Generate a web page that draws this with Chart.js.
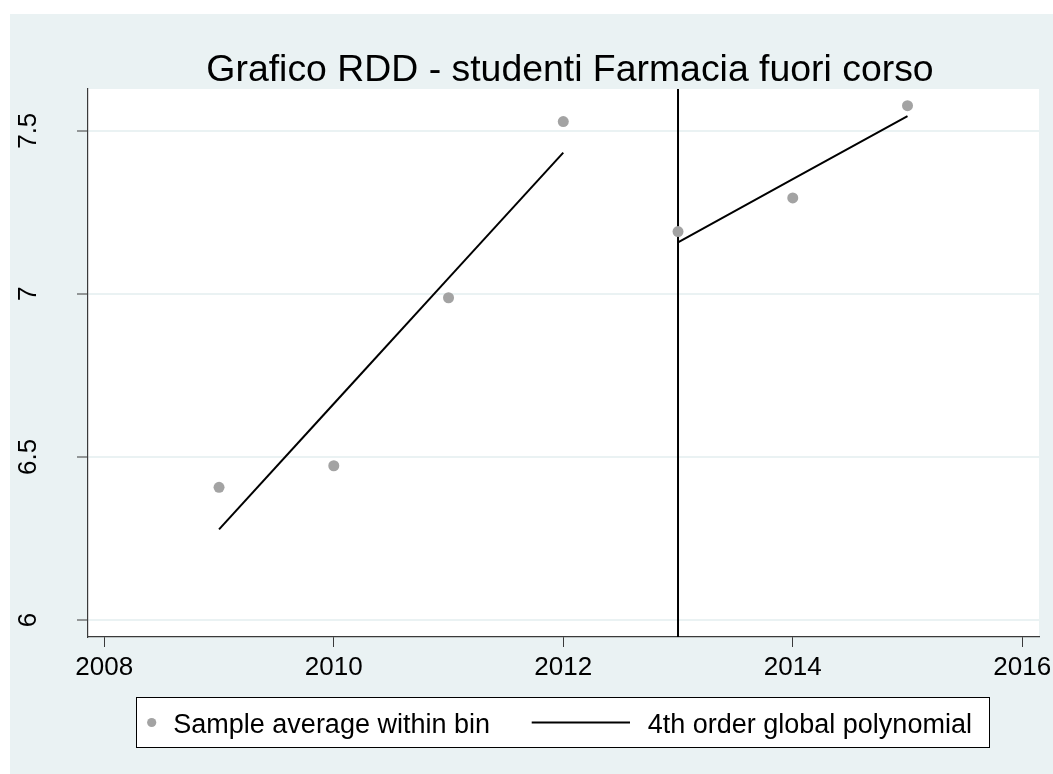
<!DOCTYPE html>
<html>
<head>
<meta charset="utf-8">
<title>Grafico RDD - studenti Farmacia fuori corso</title>
<script src="https://cdn.jsdelivr.net/npm/chart.js@4/dist/chart.umd.min.js"></script>
<style>
  html, body { margin: 0; padding: 0; background: #ffffff; }
  canvas { display: block; }
</style>
</head>
<body>
<canvas id="rdd" width="1053" height="774"></canvas>
<script>
// Anni accademici (bin) e medie campionarie per bin
const years = [2009, 2010, 2011, 2012, 2013, 2014, 2015];
const binMeans = [6.407, 6.473, 6.988, 7.528, 7.191, 7.294, 7.577];

// Valori stimati del polinomio globale di 4° ordine, prima e dopo la soglia
const fitLeftYears = [2009, 2010, 2011, 2012];
const fitLeftValues = [6.278, 6.663, 7.048, 7.433];
const fitRightYears = [2013, 2014, 2015];
const fitRightValues = [7.158, 7.352, 7.545];

// Soglia di discontinuità
const cutoffYear = 2013;

// Assi
const xTicks = [2008, 2010, 2012, 2014, 2016];
const yTicks = [6, 6.5, 7, 7.5];
const xRange = [2007.858, 2016.146];
const yRange = [5.948, 7.628];

const titleText = 'Grafico RDD - studenti Farmacia fuori corso';
const seriesLabels = ['Sample average within bin', '4th order global polynomial'];

const FONT = "'Liberation Sans', Arial, sans-serif";
const BG = '#eaf2f3';
const AXIS = '#3a3a3a';
const DOT = '#a3a3a3';

const toPoints = (xs, ys) => xs.map((x, i) => ({ x, y: ys[i] }));

// Sfondo della figura, area del grafico bianca
const backgroundPlugin = {
  id: 'stataBackground',
  beforeDraw(chart) {
    const { ctx, chartArea: a } = chart;
    ctx.save();
    ctx.fillStyle = '#ffffff';
    ctx.fillRect(0, 0, chart.width, chart.height);
    ctx.fillStyle = BG;
    ctx.fillRect(10, 14, chart.width - 10, chart.height - 14);
    ctx.fillStyle = '#ffffff';
    ctx.fillRect(a.left, a.top, a.right - a.left, a.bottom - a.top);
    ctx.restore();
  }
};

// Titolo e legenda in riquadro
const decorationsPlugin = {
  id: 'stataDecorations',
  afterDraw(chart) {
    const { ctx } = chart;
    ctx.save();
    // titolo
    ctx.fillStyle = '#000000';
    ctx.font = '37.4px ' + FONT;
    ctx.textAlign = 'center';
    ctx.textBaseline = 'alphabetic';
    ctx.fillText(titleText, 570, 81);

    // legenda
    const bx = 136.5, by = 697.5, bw = 853, bh = 50;
    ctx.fillStyle = '#ffffff';
    ctx.fillRect(bx, by, bw, bh);
    ctx.strokeStyle = '#000000';
    ctx.lineWidth = 1;
    ctx.strokeRect(bx, by, bw, bh);

    const dots = chart.data.datasets[0];
    const fit = chart.data.datasets[1];
    const cy = 722.5;
    ctx.fillStyle = dots.backgroundColor;
    ctx.beginPath();
    ctx.arc(151.7, cy, 4.6, 0, Math.PI * 2);
    ctx.fill();

    ctx.strokeStyle = fit.borderColor;
    ctx.lineWidth = fit.borderWidth;
    ctx.beginPath();
    ctx.moveTo(531.7, cy);
    ctx.lineTo(630, cy);
    ctx.stroke();

    ctx.fillStyle = '#000000';
    ctx.font = '27px ' + FONT;
    ctx.textAlign = 'left';
    ctx.textBaseline = 'alphabetic';
    ctx.fillText(dots.label, 173.3, 733);
    ctx.fillText(fit.label, 647.7, 733);
    ctx.restore();
  }
};

const lineStyle = {
  showLine: true,
  borderColor: '#000000',
  borderWidth: 2,
  pointRadius: 0,
  pointHoverRadius: 0,
  tension: 0,
  fill: false
};

new Chart(document.getElementById('rdd'), {
  type: 'scatter',
  data: {
    datasets: [
      {
        label: seriesLabels[0],
        data: toPoints(years, binMeans),
        backgroundColor: DOT,
        borderWidth: 0,
        pointRadius: 5.5,
        pointHoverRadius: 5.5,
        showLine: false
      },
      Object.assign({ label: seriesLabels[1], data: toPoints(fitLeftYears, fitLeftValues) }, lineStyle),
      Object.assign({ label: seriesLabels[1], data: toPoints(fitRightYears, fitRightValues) }, lineStyle),
      Object.assign({ label: 'cutoff', data: [{ x: cutoffYear, y: yRange[0] }, { x: cutoffYear, y: yRange[1] }] }, lineStyle)
    ]
  },
  options: {
    responsive: false,
    devicePixelRatio: 1,
    animation: false,
    events: [],
    layout: { padding: { top: 89, left: 0, right: 14, bottom: 0 } },
    plugins: {
      legend: { display: false },
      title: { display: false },
      tooltip: { enabled: false }
    },
    scales: {
      x: {
        type: 'linear',
        position: 'bottom',
        min: xRange[0],
        max: xRange[1],
        afterBuildTicks: (s) => { s.ticks = xTicks.map(v => ({ value: v })); },
        afterFit: (s) => { s.height = 137; s.paddingLeft = 0; s.paddingRight = 0; },
        grid: {
          drawOnChartArea: false,
          drawTicks: true,
          tickLength: 10,
          tickColor: AXIS,
          tickWidth: 1
        },
        border: { display: true, color: AXIS, width: 1.2 },
        ticks: {
          autoSkip: false,
          maxRotation: 0,
          minRotation: 0,
          padding: 5,
          color: '#000000',
          font: { family: FONT, size: 26 },
          callback: (v) => String(v)
        }
      },
      y: {
        type: 'linear',
        position: 'left',
        min: yRange[0],
        max: yRange[1],
        afterBuildTicks: (s) => { s.ticks = yTicks.map(v => ({ value: v })); },
        afterFit: (s) => { s.width = 88; s.paddingTop = 0; s.paddingBottom = 0; },
        grid: {
          drawOnChartArea: true,
          color: BG,
          lineWidth: 2,
          drawTicks: true,
          tickLength: 11,
          tickColor: AXIS,
          tickWidth: 1
        },
        border: { display: true, color: AXIS, width: 1.2 },
        ticks: {
          autoSkip: false,
          minRotation: 90,
          maxRotation: 90,
          crossAlign: 'center',
          padding: 30,
          color: '#000000',
          font: { family: FONT, size: 26 },
          callback: (v) => String(v)
        }
      }
    }
  },
  plugins: [backgroundPlugin, decorationsPlugin]
});
</script>
</body>
</html>
